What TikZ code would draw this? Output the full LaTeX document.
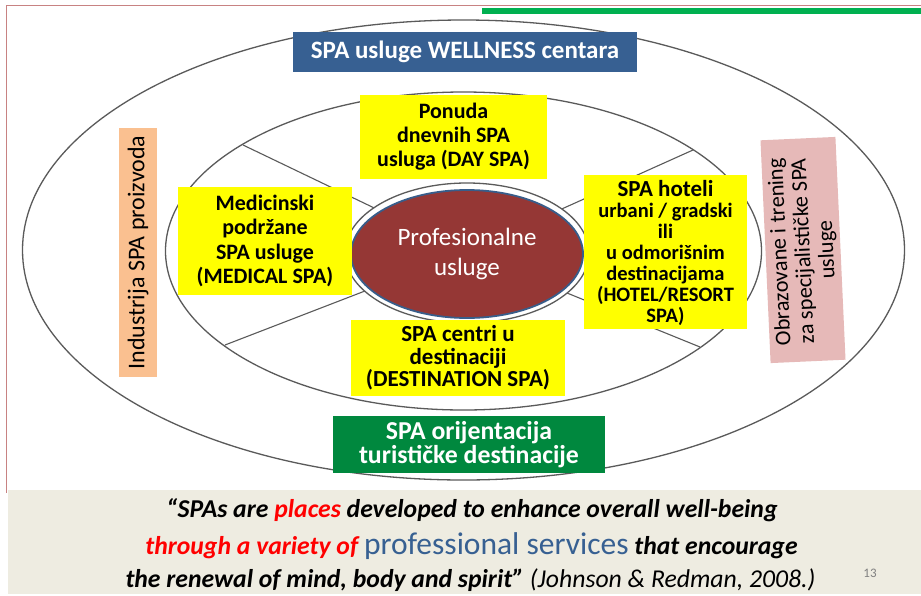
\documentclass[tikz,border=0pt]{standalone}
\usepackage{fontspec}
\setmainfont{Carlito}
\usetikzlibrary{shapes.geometric}
\definecolor{boxblue}{RGB}{55,96,146}
\definecolor{boxyellow}{RGB}{255,255,0}
\definecolor{redell}{RGB}{149,55,53}
\definecolor{redellborder}{RGB}{56,93,138}
\definecolor{boxgreen}{RGB}{0,136,62}
\definecolor{bargreen}{RGB}{0,176,80}
\definecolor{salmon}{RGB}{250,192,144}
\definecolor{pinkbox}{RGB}{230,185,184}
\definecolor{beige}{RGB}{238,236,225}
\definecolor{quoteblue}{RGB}{55,96,146}
\definecolor{frameline}{RGB}{200,130,130}
\definecolor{ringgray}{RGB}{90,90,90}
\begin{document}
\begin{tikzpicture}[x=1pt,y=-1pt,
  ring/.style={draw=ringgray,line width=1.3pt},
  ybox/.style={fill=boxyellow,inner sep=0pt,align=center,font=\bfseries\fontsize{22}{24}\selectfont},
  wbox/.style={inner sep=0pt,align=center,text=white,font=\bfseries\fontsize{25}{24}\selectfont},
  vbox/.style={inner sep=0pt,align=center,font=\fontsize{24}{22.5}\selectfont},
  qline/.style={inner sep=0pt,font=\bfseries\itshape\fontsize{25.7}{28}\selectfont}
]
\useasboundingbox (0,0) rectangle (921,595);
\fill[white] (0,0) rectangle (921,595);
% frame lines
\draw[frameline,line width=0.8pt] (6,5.5) -- (921,5.5);
\draw[frameline,line width=0.8pt] (6,5.5) -- (6,493);
\fill[bargreen] (482,8) rectangle (921,14);
% bottom band
\fill[beige] (8,490) rectangle (921,594);
% ellipses
\draw[ring] (463.5,250) ellipse [x radius=441, y radius=230];
\draw[ring] (463.5,251) ellipse [x radius=298, y radius=159];
% spokes
\coordinate (c) at (466,252);
\coordinate (s1) at (243,145);
\coordinate (s2) at (693,150);
\coordinate (s3) at (700,347);
\coordinate (s4) at (225,345);
\draw[ring,line width=1.1pt] (c) -- (s1) (c) -- (s2) (c) -- (s3) (c) -- (s4);
% inner ring and red ellipse
\draw[ring,fill=white] (467,253) ellipse [x radius=122, y radius=70];
\node[ellipse,fill=redell,draw=redellborder,line width=1.8pt,minimum width=232,minimum height=128,inner sep=0pt,
  align=center,text=white,font=\fontsize{25}{30}\selectfont] (prof) at (467,254) {Profesionalne\\usluge};
% boxes
\node[wbox,fill=boxblue,minimum width=344,minimum height=40] (wellness) at (465,52) {SPA usluge WELLNESS centara};
\node[ybox,minimum width=187,minimum height=84] (day) at (453.5,137) {Ponuda\\dnevnih SPA\\usluga (DAY SPA)};
\node[ybox,minimum width=174,minimum height=108,font=\bfseries\fontsize{22}{24.5}\selectfont] (med) at (265,241) {Medicinski\\podržane\\SPA usluge\\(MEDICAL SPA)};
\node[fill=boxyellow,inner sep=0pt,minimum width=163,minimum height=154] (hotel) at (665.5,252) {};
\node[inner sep=0pt,align=center,font=\bfseries\fontsize{20.5}{21}\selectfont] (hoteltxt) at (665.5,253)
  {{\fontsize{23}{21}\selectfont SPA hoteli}\\urbani / gradski\\ili\\u odmorišnim\\destinacijama\\(HOTEL/RESORT\\SPA)};
\node[ybox,minimum width=214,minimum height=76,font=\bfseries\fontsize{23}{22.5}\selectfont] (dest) at (458,358) {SPA centri u\\destinaciji\\(DESTINATION SPA)};
\node[wbox,fill=boxgreen,minimum width=272,minimum height=57,font=\bfseries\fontsize{25.8}{24}\selectfont] (orient) at (469,444.5) {SPA orijentacija\\turističke destinacije};
\node[vbox,fill=pinkbox,rotate=92.6,minimum width=223,minimum height=75] (edu) at (803,250) {};
\node[vbox,fill=salmon,rotate=90,minimum width=249,minimum height=38] (ind) at (138,252.5) {Industrija SPA proizvoda};
\node[inner sep=0pt,align=center,rotate=92.6,font=\fontsize{22.3}{23.5}\selectfont] (edutxt) at (804,251)
  {Obrazovane i trening\\za specijalističke SPA\\usluge};
% quote
\node[qline] (q1) at (472,510) {“SPAs are \textcolor{red}{places} developed to enhance overall well-being};
\node[qline] (q2) at (471.5,546) {\textcolor{red}{through a variety of} {\mdseries\upshape\color{quoteblue}\fontsize{31.5}{32}\selectfont professional services} that encourage};
\node[qline] (q3) at (470.5,580) {the renewal of mind, body and spirit” {\mdseries (Johnson \& Redman, 2008.)}};
\node[inner sep=0pt,text=gray,font=\fontsize{13}{15}\selectfont] (pg) at (870,573) {13};
\end{tikzpicture}
\end{document}
